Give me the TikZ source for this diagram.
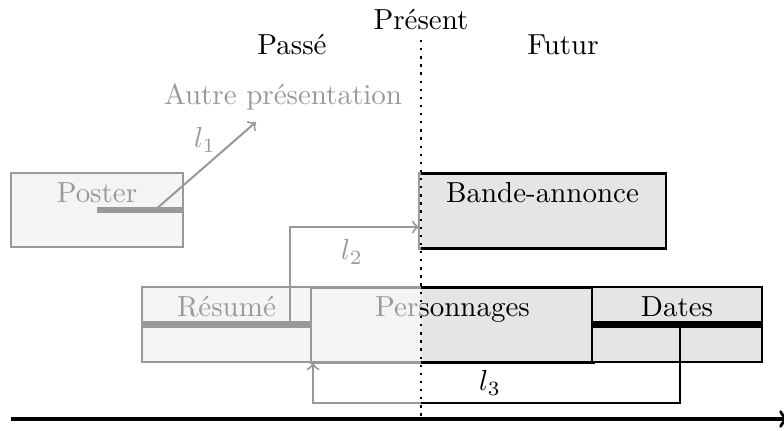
\documentclass[tikz,border=0pt]{standalone}
\def\pxu{0.345pt}
\tikzset{
  tlbox/.style={draw=black, fill=gray!20, line width=1pt, rectangle, inner sep=0pt},
  boxlabel/.style={anchor=north, text height=7pt, text depth=2pt, inner sep=3.33pt},
  thickbar/.style={line width=2.4pt},
  link/.style={line width=0.7pt,->},
  veil/.style={fill=white, opacity=0.6},
}
\begin{document}
\begin{tikzpicture}[x=0.345pt, y=-0.345pt]
\useasboundingbox (0,0) rectangle (784,430);
% boxes
\node[tlbox, minimum width=172*\pxu, minimum height=74*\pxu] (poster) at (97,210) {};
\node[tlbox, minimum width=247*\pxu, minimum height=75*\pxu] (bande) at (542.5,211) {};
\node[tlbox, minimum width=169*\pxu, minimum height=75*\pxu] (resume) at (226.5,324.5) {};
\node[tlbox, minimum width=283*\pxu, minimum height=75*\pxu] (perso) at (452.5,325) {};
\node[tlbox, minimum width=170*\pxu, minimum height=75*\pxu] (dates) at (677,324.5) {};
% labels
\node[boxlabel] (posterT) at (poster.north) {Poster};
\node[boxlabel] (bandeT) at (bande.north) {Bande-annonce};
\node[boxlabel] (resumeT) at (resume.north) {Résumé};
\node[boxlabel] (persoT) at (perso.north) {Personnages};
\node[boxlabel] (datesT) at (dates.north) {Dates};
% bars
\draw[thickbar] (poster.center) -- ([xshift=-1pt]poster.east);
\draw[thickbar] (resume.west) -- (resume.east);
\draw[thickbar] (dates.west) -- (dates.east);
% other presentation
\node (autre) at (283,97) {Autre présentation};
% l1
\coordinate (l1s) at (155,210);
\coordinate (l1e) at (256,122);
\draw[link] (l1s) -- (l1e);
\node (l1) at (205,140) {$l_1$};
% l2
\coordinate (l2s) at (290,322);
\coordinate (l2e) at (419,227);
\draw[link] (l2s) |- (l2e);
\node (l2) at (352,252) {$l_2$};
% l3
\coordinate (l3s) at (680,325);
\coordinate (l3c) at (680,403);
\coordinate (l3e) at (313,363);
\draw[link] (l3s) -- (l3c) -| (l3e);
\node (l3) at (490,383) {$l_3$};
% veil over the past
\fill[veil] (0,62) rectangle (421,411);
% present line and headings
\coordinate (ptop) at (421,40);
\coordinate (pbot) at (421,418);
\draw[thick, dotted] (ptop) -- (pbot);
\node (present) at (421,20) {Présent};
\node (passe) at (292,45) {Passé};
\node (futur) at (563,45) {Futur};
% time axis
\coordinate (ax0) at (11,419);
\coordinate (ax1) at (789,419);
\draw[line width=1.2pt, ->] (ax0) -- (ax1);
\end{tikzpicture}
\end{document}
